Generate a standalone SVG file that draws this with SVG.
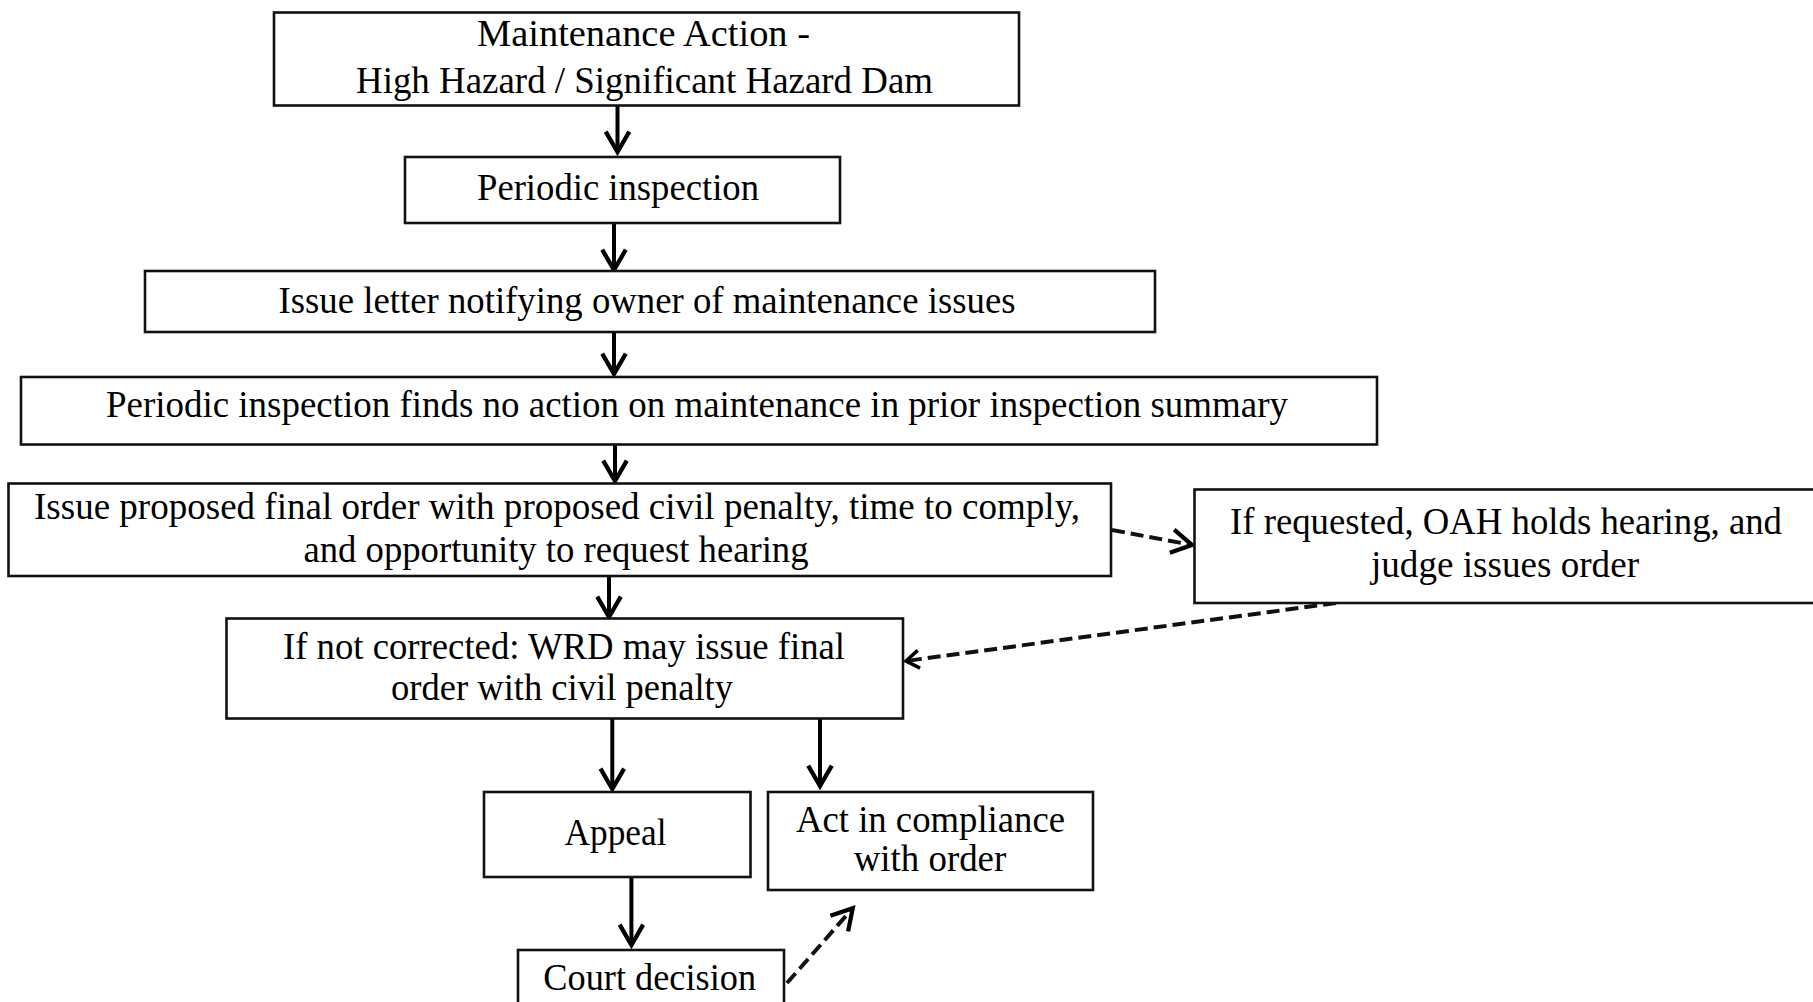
<svg xmlns="http://www.w3.org/2000/svg" width="1813" height="1002" viewBox="0 0 1813 1002">
<style>
  .box { fill: #fff; stroke: #111; stroke-width: 2.6; }
  .t { font-family: "Liberation Serif", "Times New Roman", serif; font-size: 37px; fill: #000; text-anchor: middle; }
  .arr { stroke: #000; stroke-width: 4; fill: none; marker-end: url(#head); }
  .dash { stroke: #111; stroke-width: 4; fill: none; stroke-dasharray: 13 6; marker-end: url(#head); }
  .dash.small { marker-end: url(#dhead); }
</style>
<defs>
  <marker id="head" markerUnits="userSpaceOnUse" markerWidth="30" markerHeight="30" viewBox="-3 -3 27 28" refX="20" refY="11" orient="auto">
    <path d="M1,0 L20,11 L1,22" fill="none" stroke="#000" stroke-width="4" stroke-linejoin="miter"/>
  </marker>
  <marker id="dhead" markerUnits="userSpaceOnUse" markerWidth="24" markerHeight="24" viewBox="-3 -3 20 24" refX="14" refY="9" orient="auto">
    <path d="M1,0 L14,9 L1,18" fill="none" stroke="#000" stroke-width="3.5" stroke-linejoin="miter"/>
  </marker>
</defs>
<rect width="1813" height="1002" fill="#fff"/>

<g id="connectors">
  <line class="arr" x1="617.5" y1="106" x2="617.5" y2="152"/>
  <line class="arr" x1="614" y1="223" x2="614" y2="270"/>
  <line class="arr" x1="614" y1="332" x2="614" y2="374"/>
  <line class="arr" x1="615" y1="445" x2="615" y2="481"/>
  <line class="arr" x1="609" y1="576" x2="609" y2="617"/>
  <line class="arr" x1="612.3" y1="719" x2="612.3" y2="789"/>
  <line class="arr" x1="820" y1="719" x2="820" y2="786"/>
  <line class="arr" x1="631.4" y1="877" x2="631.4" y2="945"/>
  <line class="dash" x1="1112" y1="530" x2="1192" y2="545"/>
  <line class="dash small" x1="1336" y1="603" x2="906" y2="661"/>
  <line class="dash" x1="787" y1="983" x2="852.7" y2="908.3"/>
</g>

<g id="n1">
  <rect class="box" x="274" y="12.5" width="745" height="93"/>
  <text class="t" x="643.5" y="46" textLength="333" lengthAdjust="spacingAndGlyphs">Maintenance Action  -</text>
  <text class="t" x="644.5" y="92.5" textLength="577" lengthAdjust="spacingAndGlyphs">High Hazard / Significant Hazard Dam</text>
</g>
<g id="n2">
  <rect class="box" x="405" y="157" width="435" height="66"/>
  <text class="t" x="618" y="199.5" textLength="282" lengthAdjust="spacingAndGlyphs">Periodic inspection</text>
</g>
<g id="n3">
  <rect class="box" x="145" y="271" width="1010" height="61"/>
  <text class="t" x="647" y="313" textLength="737" lengthAdjust="spacingAndGlyphs">Issue letter notifying owner of maintenance issues</text>
</g>
<g id="n4">
  <rect class="box" x="21" y="377" width="1356" height="67.5"/>
  <text class="t" x="697" y="417" textLength="1182" lengthAdjust="spacingAndGlyphs">Periodic inspection finds no action on maintenance in prior inspection summary</text>
</g>
<g id="n5">
  <rect class="box" x="8.5" y="483.5" width="1102.5" height="92.5"/>
  <text class="t" x="557" y="518.5" textLength="1046" lengthAdjust="spacingAndGlyphs">Issue proposed final order with proposed civil penalty, time to comply,</text>
  <text class="t" x="556" y="561.5" textLength="505" lengthAdjust="spacingAndGlyphs">and opportunity to request hearing</text>
</g>
<g id="n6">
  <rect class="box" x="1194.5" y="489.5" width="640" height="113.5"/>
  <text class="t" x="1506" y="533.5" textLength="552" lengthAdjust="spacingAndGlyphs">If requested, OAH holds hearing, and</text>
  <text class="t" x="1505" y="576.5" textLength="268" lengthAdjust="spacingAndGlyphs">judge issues order</text>
</g>
<g id="n7">
  <rect class="box" x="226.5" y="618.5" width="676.5" height="100"/>
  <text class="t" x="564" y="658.5" textLength="562" lengthAdjust="spacingAndGlyphs">If not corrected: WRD may issue final</text>
  <text class="t" x="562" y="700" textLength="342" lengthAdjust="spacingAndGlyphs">order with civil  penalty</text>
</g>
<g id="n8">
  <rect class="box" x="484" y="792" width="266.5" height="85"/>
  <text class="t" x="615.5" y="845" textLength="102" lengthAdjust="spacingAndGlyphs">Appeal</text>
</g>
<g id="n9">
  <rect class="box" x="768" y="792" width="325" height="98"/>
  <text class="t" x="930.5" y="831.5" textLength="269" lengthAdjust="spacingAndGlyphs">Act in compliance</text>
  <text class="t" x="930" y="871" textLength="152.5" lengthAdjust="spacingAndGlyphs">with order</text>
</g>
<g id="n10">
  <rect class="box" x="518" y="950" width="266" height="70"/>
  <text class="t" x="649.7" y="990" textLength="212.7" lengthAdjust="spacingAndGlyphs">Court decision</text>
</g>
</svg>
